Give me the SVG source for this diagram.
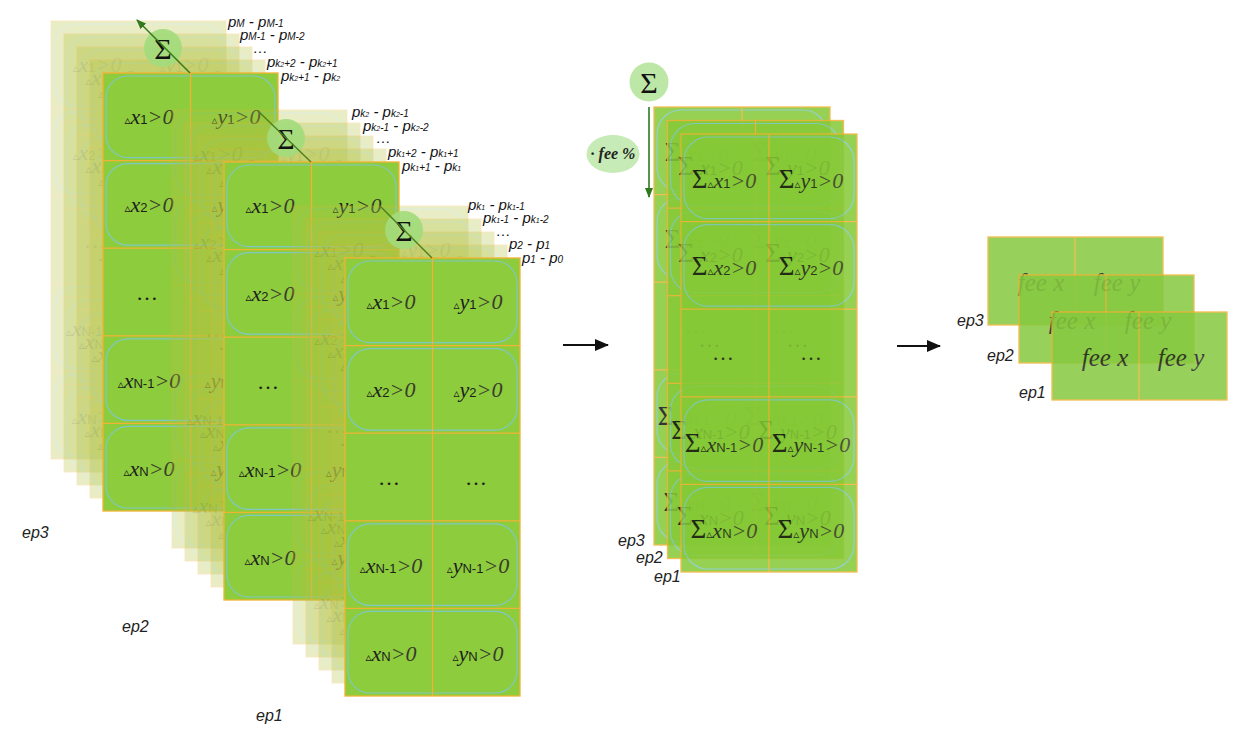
<svg xmlns="http://www.w3.org/2000/svg" width="1237" height="733" viewBox="0 0 1237 733">
<defs>
<style>
.tri{font-family:"DejaVu Sans",sans-serif;font-size:12px;font-style:normal}
.v{font-family:"Liberation Serif",serif;font-style:italic;font-size:22px}
.g{fill:#3a3a2c}
.s{font-family:"Liberation Sans",sans-serif;font-size:13px;font-style:normal}
.sig{font-family:"Liberation Serif",serif;font-size:27px;font-style:normal;fill:#111}
.bigsig{font-family:"Liberation Serif",serif;font-size:30px;fill:#111;text-anchor:middle}
.dots{font-family:"Liberation Serif",serif;font-size:22px}
.lab{fill:#1e1e1e;text-anchor:middle}
.div{stroke:#f2b233;stroke-width:1.3;fill:none}
.bd{stroke:#f2b233;stroke-width:1.3;fill:none}
.rr{fill:none;stroke:#7fc8c2;stroke-width:1.2}
.ep{font-family:"Liberation Sans",sans-serif;font-style:italic;font-size:16px;fill:#222}
.p{font-family:"Liberation Sans",sans-serif;font-style:italic;font-size:15px;fill:#111}
.ps{font-size:10px}
.pss{font-size:7px}
.fee{font-family:"Liberation Serif",serif;font-style:italic;font-size:25px;fill:#1e1e1e;text-anchor:middle}
.circ{fill:#a3db7c;opacity:.92}
</style>
<marker id="ak" markerWidth="14" markerHeight="12" refX="13" refY="6" orient="auto" markerUnits="userSpaceOnUse"><path d="M0,0 L14,6 L0,12 z" fill="#111"/></marker>
<marker id="ag" markerWidth="10" markerHeight="8" refX="9" refY="4" orient="auto" markerUnits="userSpaceOnUse"><path d="M0,0 L10,4 L0,8 z" fill="#2f7a1c"/></marker>

<g id="gridL">
<g class="rr">
<rect x="3" y="3" width="169" height="81.6" rx="22"/>
<rect x="3" y="90.6" width="169" height="81.6" rx="22"/>
<rect x="3" y="265.8" width="169" height="81.6" rx="22"/>
<rect x="3" y="353.4" width="169" height="81.6" rx="22"/>
</g>
<path class="div" d="M87.5 0V438M0 87.6H175M0 175.2H175M0 262.8H175M0 350.4H175"/>
<rect class="bd" width="175" height="438"/>
<g class="lab">
<text x="46" y="51"><tspan class="tri">▵</tspan><tspan class="v">x</tspan><tspan class="s">1</tspan><tspan class="v g">&gt;0</tspan></text>
<text x="133" y="51"><tspan class="tri">▵</tspan><tspan class="v">y</tspan><tspan class="s">1</tspan><tspan class="v g">&gt;0</tspan></text>
<text x="46" y="139"><tspan class="tri">▵</tspan><tspan class="v">x</tspan><tspan class="s">2</tspan><tspan class="v g">&gt;0</tspan></text>
<text x="133" y="139"><tspan class="tri">▵</tspan><tspan class="v">y</tspan><tspan class="s">2</tspan><tspan class="v g">&gt;0</tspan></text>
<text x="44" y="227" class="dots">…</text>
<text x="131" y="227" class="dots">…</text>
<text x="46" y="315"><tspan class="tri">▵</tspan><tspan class="v">x</tspan><tspan class="s">N-1</tspan><tspan class="v g">&gt;0</tspan></text>
<text x="133" y="315"><tspan class="tri">▵</tspan><tspan class="v">y</tspan><tspan class="s">N-1</tspan><tspan class="v g">&gt;0</tspan></text>
<text x="46" y="403"><tspan class="tri">▵</tspan><tspan class="v">x</tspan><tspan class="s">N</tspan><tspan class="v g">&gt;0</tspan></text>
<text x="133" y="403"><tspan class="tri">▵</tspan><tspan class="v">y</tspan><tspan class="s">N</tspan><tspan class="v g">&gt;0</tspan></text>
</g>
</g>
<g id="frontL"><rect width="175" height="438" fill="#8dcc3c"/><use href="#gridL"/></g>
<g id="backL"><rect width="175" height="438" fill="#b4c444"/><use href="#gridL" opacity=".65"/></g>

<g id="gridM">
<g class="rr">
<rect x="3" y="3" width="170" height="81.6" rx="24"/>
<rect x="3" y="90.6" width="170" height="81.6" rx="24"/>
<rect x="3" y="265.8" width="170" height="81.6" rx="24"/>
<rect x="3" y="353.4" width="170" height="81.6" rx="24"/>
</g>
<path class="div" d="M88 0V438M0 87.6H176M0 175.2H176M0 262.8H176M0 350.4H176"/>
<rect class="bd" width="176" height="438"/>
<g class="lab">
<text x="43" y="54"><tspan class="sig">Σ</tspan><tspan class="tri">▵</tspan><tspan class="v">x</tspan><tspan class="s">1</tspan><tspan class="v g">&gt;0</tspan></text>
<text x="130" y="54"><tspan class="sig">Σ</tspan><tspan class="tri">▵</tspan><tspan class="v">y</tspan><tspan class="s">1</tspan><tspan class="v g">&gt;0</tspan></text>
<text x="43" y="141"><tspan class="sig">Σ</tspan><tspan class="tri">▵</tspan><tspan class="v">x</tspan><tspan class="s">2</tspan><tspan class="v g">&gt;0</tspan></text>
<text x="130" y="141"><tspan class="sig">Σ</tspan><tspan class="tri">▵</tspan><tspan class="v">y</tspan><tspan class="s">2</tspan><tspan class="v g">&gt;0</tspan></text>
<text x="42" y="226" class="dots">…</text>
<text x="130" y="226" class="dots">…</text>
<text x="43" y="318"><tspan class="sig">Σ</tspan><tspan class="tri">▵</tspan><tspan class="v">x</tspan><tspan class="s">N-1</tspan><tspan class="v g">&gt;0</tspan></text>
<text x="130" y="318"><tspan class="sig">Σ</tspan><tspan class="tri">▵</tspan><tspan class="v">y</tspan><tspan class="s">N-1</tspan><tspan class="v g">&gt;0</tspan></text>
<text x="43" y="404"><tspan class="sig">Σ</tspan><tspan class="tri">▵</tspan><tspan class="v">x</tspan><tspan class="s">N</tspan><tspan class="v g">&gt;0</tspan></text>
<text x="130" y="404"><tspan class="sig">Σ</tspan><tspan class="tri">▵</tspan><tspan class="v">y</tspan><tspan class="s">N</tspan><tspan class="v g">&gt;0</tspan></text>
</g>
</g>
<g id="layerM"><rect width="176" height="438" fill="#86c936"/><use href="#gridM"/></g>

<g id="layerR">
<rect width="175" height="88" fill="#86c93f"/>
<path class="div" d="M87 0V88"/>
<rect class="bd" width="175" height="88"/>
<text class="fee" x="53" y="54">fee x</text>
<text class="fee" x="129" y="54">fee y</text>
</g>
</defs>

<rect width="1237" height="733" fill="#ffffff"/>

<!-- Left stage -->
<g id="left-ep3">
<use href="#backL" x="51" y="21" opacity=".3"/>
<use href="#backL" x="64" y="34" opacity=".3"/>
<use href="#backL" x="77" y="47" opacity=".3"/>
<use href="#backL" x="90" y="60" opacity=".3"/>
<use href="#frontL" x="103" y="73"/>
<circle class="circ" cx="163" cy="48" r="19"/>
<text class="bigsig" x="163" y="59">Σ</text>
<text class="p" x="228" y="27">p<tspan class="ps">M</tspan> - p<tspan class="ps">M-1</tspan></text>
<text class="p" x="240" y="40">p<tspan class="ps">M-1</tspan> - p<tspan class="ps">M-2</tspan></text>
<text class="p" x="253" y="53">…</text>
<text class="p" x="267" y="67">p<tspan class="ps">k</tspan><tspan class="pss">2</tspan><tspan class="ps">+2</tspan> - p<tspan class="ps">k</tspan><tspan class="pss">2</tspan><tspan class="ps">+1</tspan></text>
<text class="p" x="281" y="81">p<tspan class="ps">k</tspan><tspan class="pss">2</tspan><tspan class="ps">+1</tspan> - p<tspan class="ps">k</tspan><tspan class="pss">2</tspan></text>
<text class="ep" x="22" y="538">ep3</text>
</g>

<g id="left-ep2">
<use href="#backL" x="172" y="110" opacity=".3"/>
<use href="#backL" x="185" y="123" opacity=".3"/>
<use href="#backL" x="198" y="136" opacity=".3"/>
<use href="#backL" x="211" y="149" opacity=".3"/>
<use href="#frontL" x="224" y="162"/>
<circle class="circ" cx="286" cy="138" r="19"/>
<text class="bigsig" x="286" y="149">Σ</text>
<text class="p" x="352" y="117">p<tspan class="ps">k</tspan><tspan class="pss">2</tspan> - p<tspan class="ps">k</tspan><tspan class="pss">2</tspan><tspan class="ps">-1</tspan></text>
<text class="p" x="363" y="131">p<tspan class="ps">k</tspan><tspan class="pss">2</tspan><tspan class="ps">-1</tspan> - p<tspan class="ps">k</tspan><tspan class="pss">2</tspan><tspan class="ps">-2</tspan></text>
<text class="p" x="376" y="143">…</text>
<text class="p" x="388" y="157">p<tspan class="ps">k</tspan><tspan class="pss">1</tspan><tspan class="ps">+2</tspan> - p<tspan class="ps">k</tspan><tspan class="pss">1</tspan><tspan class="ps">+1</tspan></text>
<text class="p" x="402" y="171">p<tspan class="ps">k</tspan><tspan class="pss">1</tspan><tspan class="ps">+1</tspan> - p<tspan class="ps">k</tspan><tspan class="pss">1</tspan></text>
<text class="ep" x="122" y="632">ep2</text>
</g>

<g id="left-ep1">
<use href="#backL" x="293" y="206" opacity=".3"/>
<use href="#backL" x="306" y="219" opacity=".3"/>
<use href="#backL" x="319" y="232" opacity=".3"/>
<use href="#backL" x="332" y="245" opacity=".3"/>
<use href="#frontL" x="345" y="258"/>
<circle class="circ" cx="404" cy="230" r="19"/>
<text class="bigsig" x="404" y="241">Σ</text>
<text class="p" x="468" y="210">p<tspan class="ps">k</tspan><tspan class="pss">1</tspan> - p<tspan class="ps">k</tspan><tspan class="pss">1</tspan><tspan class="ps">-1</tspan></text>
<text class="p" x="483" y="223">p<tspan class="ps">k</tspan><tspan class="pss">1</tspan><tspan class="ps">-1</tspan> - p<tspan class="ps">k</tspan><tspan class="pss">1</tspan><tspan class="ps">-2</tspan></text>
<text class="p" x="496" y="236">…</text>
<text class="p" x="509" y="249">p<tspan class="ps">2</tspan> - p<tspan class="ps">1</tspan></text>
<text class="p" x="522" y="263">p<tspan class="ps">1</tspan> - p<tspan class="ps">0</tspan></text>
<text class="ep" x="256" y="721">ep1</text>
</g>

<!-- Middle stage -->
<g id="mid-sum">
<circle cx="649" cy="82" r="19.5" fill="#bde7a6"/>
<text class="bigsig" x="649" y="93">Σ</text>
</g>
<g id="mid-fee">
<ellipse cx="613" cy="154" rx="26.5" ry="19" fill="#c6ebb6"/>
<text x="613" y="159" text-anchor="middle" font-family="Liberation Serif, serif" font-style="italic" font-weight="bold" font-size="16" fill="#222">· fee %</text>
</g>
<g id="mid-ep3">
<use href="#layerM" x="654" y="107" opacity=".85"/>
<text class="ep" x="618" y="546">ep3</text>
</g>
<g id="mid-ep2">
<use href="#layerM" x="667.5" y="120.5" opacity=".85"/>
<text class="ep" x="636" y="563">ep2</text>
</g>
<g id="mid-ep1">
<use href="#layerM" x="681" y="134" opacity=".85"/>
<text class="ep" x="654" y="582">ep1</text>
</g>

<!-- Right stage -->
<g id="right-ep3">
<use href="#layerR" x="988" y="237" opacity=".85"/>
<text class="ep" x="957" y="326">ep3</text>
</g>
<g id="right-ep2">
<use href="#layerR" x="1019" y="275" opacity=".85"/>
<text class="ep" x="987" y="361">ep2</text>
</g>
<g id="right-ep1">
<use href="#layerR" x="1052" y="312" opacity=".85"/>
<text class="ep" x="1019" y="398">ep1</text>
</g>

<g id="connectors" fill="none">
<line x1="190" y1="73" x2="137" y2="20" stroke="#3b7a1e" stroke-width="1.6" marker-end="url(#ag)"/>
<line x1="311" y1="162" x2="258" y2="111" stroke="#4f7e1e" stroke-width="1.4"/>
<line x1="432" y1="258" x2="381" y2="207" stroke="#4f7e1e" stroke-width="1.4"/>
<line x1="649" y1="107" x2="649" y2="197" stroke="#2f7a1c" stroke-width="1.6" marker-end="url(#ag)"/>
<line x1="563" y1="345" x2="608" y2="345" stroke="#111" stroke-width="2.2" marker-end="url(#ak)"/>
<line x1="897" y1="346" x2="940" y2="346" stroke="#111" stroke-width="2.2" marker-end="url(#ak)"/>
</g>
</svg>
